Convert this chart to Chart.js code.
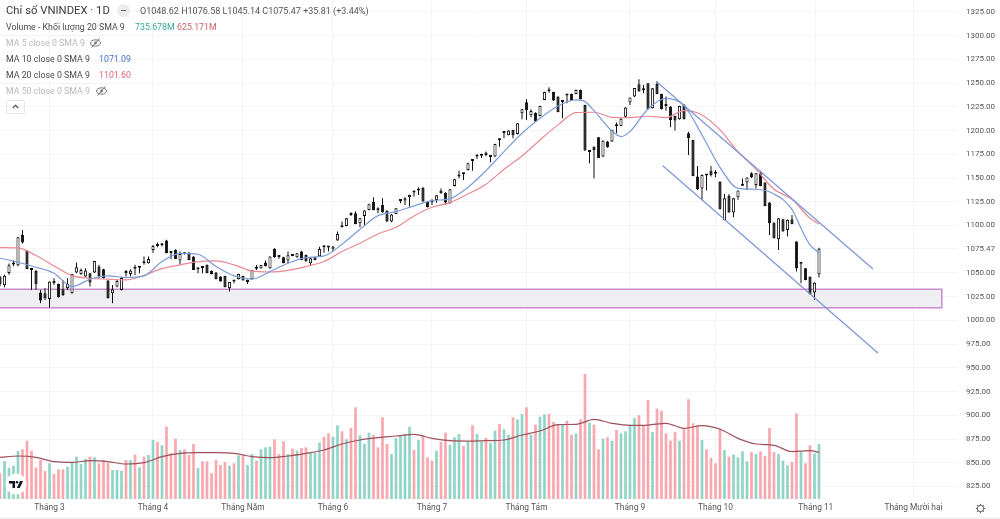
<!DOCTYPE html>
<html lang="vi">
<head>
<meta charset="utf-8">
<title>Chỉ số VNINDEX</title>
<script src="https://cdn.jsdelivr.net/npm/chart.js@4"></script>
<style>
html, body { margin: 0; padding: 0; background: #fff; }
#wrap { position: relative; width: 1000px; height: 519px; overflow: hidden; font-family: Roboto, sans-serif; color: #4a4a4a; filter: blur(0.3px); }
#priceChart { position: absolute; left: 0; top: 0; }
.row { position: absolute; left: 6px; font-size: 8.8px; line-height: 12px; white-space: nowrap; }
.row span { position: absolute; top: 0; }
.off { color: #b8b8b8; }
#title { font-size: 11.3px; top: 4px; line-height: 14px; color: #3c3c3c; }
#ohlc { position: absolute; left: 140px; top: 5px; font-size: 9px; line-height: 12px; white-space: nowrap; color: #555; }
#pill { position: absolute; left: 117px; top: 4px; width: 13px; height: 13px; border-radius: 7px; background: #ececec; }
#pill i { position: absolute; left: 4px; top: 6px; width: 5px; height: 1.4px; background: #666; }
#fold { position: absolute; left: 6px; top: 100px; width: 17px; height: 12px; border: 1px solid #e6e6e6; border-radius: 2px; }
.icon { position: absolute; }
#bottomBand { position: absolute; left: 0; top: 517px; width: 1000px; height: 2px; background: #f3f3f3; }
</style>
</head>
<body>
<div id="wrap">
  <canvas id="priceChart" width="1000" height="519"></canvas>
  <div class="row" id="title">Chỉ số VNINDEX · 1D</div>
  <div id="pill"><i></i></div>
  <div id="ohlc">O1048.62 H1076.58 L1045.14 C1075.47 +35.81 (+3.44%)</div>
  <div class="row" style="top:21px">Volume - Khối lượng 20 SMA 9<span style="left:129px;color:#3aa899">735.678M</span><span style="left:171px;color:#c9626c">625.171M</span></div>
  <div class="row off" style="top:37px">MA 5 close 0 SMA 9</div>
  <svg class="icon" style="left:89px;top:37px" width="13" height="12" viewBox="0 0 13 12"><ellipse cx="6.5" cy="6" rx="5" ry="3.2" fill="none" stroke="#777"/><circle cx="6.5" cy="6" r="1.4" fill="#777"/><path d="M2.5 10.5 L10.5 1.5" stroke="#777"/></svg>
  <div class="row" style="top:53px">MA 10 close 0 SMA 9<span style="left:93px;color:#4a70c4">1071.09</span></div>
  <div class="row" style="top:69px">MA 20 close 0 SMA 9<span style="left:93px;color:#dc6676">1101.60</span></div>
  <div class="row off" style="top:85px">MA 50 close 0 SMA 9</div>
  <svg class="icon" style="left:95px;top:85px" width="13" height="12" viewBox="0 0 13 12"><ellipse cx="6.5" cy="6" rx="5" ry="3.2" fill="none" stroke="#777"/><circle cx="6.5" cy="6" r="1.4" fill="#777"/><path d="M2.5 10.5 L10.5 1.5" stroke="#777"/></svg>
  <div id="fold"><svg class="icon" style="left:5px;top:3px" width="7" height="5" viewBox="0 0 7 5"><path d="M0.8 4 L3.5 1.2 L6.2 4" fill="none" stroke="#444" stroke-width="1.1"/></svg></div>
  <svg class="icon" style="left:5px;top:473px" width="22" height="22" viewBox="0 0 22 22"><circle cx="11" cy="11" r="10.5" fill="#fff"/><path d="M4 8 H10 V15 H7.5 V10.5 H4 Z" fill="#131722"/><circle cx="12" cy="9.3" r="1.3" fill="#131722"/><path d="M15 8 H18 L14.8 15 H11.8 Z" fill="#131722"/></svg>
  <svg class="icon" style="left:975px;top:503px" width="11" height="11" viewBox="0 0 11 11"><circle cx="5.5" cy="5.5" r="3.2" fill="none" stroke="#555" stroke-width="1"/><path d="M5.5 0.8 V2.3 M5.5 8.7 V10.2 M0.8 5.5 H2.3 M8.7 5.5 H10.2 M2.2 2.2 L3.2 3.2 M7.8 7.8 L8.8 8.8 M8.8 2.2 L7.8 3.2 M3.2 7.8 L2.2 8.8" stroke="#555" stroke-width="1"/></svg>
  <div id="bottomBand"></div>
</div>
<script>
// du lieu doc tu hinh (gia theo nen ngay)
const opens = [
  1046,1037,1050,1061,1058,1090,1073.6,1054,1052,1029.3,
  1028.6,1022.6,1041,1038.4,1032.8,1033.9,1028.6,1050.4,1049,1046.2,
  1049.7,1050.4,1056.7,1053.9,1042,1028.6,1035.6,1032.1,1051,1049,
  1055.3,1055.5,1062,1060.2,1074.3,1080.2,1079.3,1084.1,1072,1074.3,
  1063,1071.4,1071.4,1067.2,1053.9,1055.7,1058.5,1052.1,1050.4,1046.2,
  1046.9,1033.9,1041.6,1043.4,1046.9,1040.5,1043.3,1055.2,1054.9,1060.9,
  1054.9,1075.6,1068,1066.5,1063,1069.7,1066.5,1072.5,1069,1060.2,
  1066.5,1067.2,1078.5,1078.2,1075.5,1084.1,1100.2,1099.5,1112.9,1112.9,
  1102.3,1110.1,1116.4,1124.8,1117,1121.7,1115.7,1104.1,1112.2,1125.8,
  1126.2,1129.7,1135.4,1137,1139.6,1125.2,1125.5,1126.9,1136.8,1134.6,
  1123.4,1141.7,1151.5,1154.8,1158.5,1168.8,1172.8,1173.4,1176.8,1173,
  1172.6,1190.4,1197.5,1195.1,1200.7,1196.5,1218.2,1229.8,1216.1,1218.9,
  1215.4,1232.3,1243.5,1240.7,1235.8,1230,1237.6,1238.6,1238.6,1242.8,
  1227,1177.5,1183.1,1193,1172.6,1188.4,1188.4,1205.3,1204.9,1214.7,
  1229.8,1235.8,1248.8,1243,1249.9,1223.5,1249.1,1238.6,1227.5,1225.3,
  1215.4,1211.9,1227,1197.2,1190.1,1151.5,1138.9,1153.8,1157.8,1155.4,
  1146.2,1105.9,1131.1,1113.6,1129.7,1142,1145.2,1155,1142.7,1155,
  1145.2,1124.1,1103,1085.5,1106.6,1095.3,1106.6,1083,1059.8,1054.9,
  1046.1,1029.3,1048.62
];
const highs = [
  1047,1048,1060,1063,1088,1095.3,1074,1054.5,1053,1032.1,
  1033.9,1041,1044.4,1039,1042.6,1044.4,1049,1060.9,1054.8,1055,
  1050,1062.7,1058.5,1054.5,1042.5,1037.4,1043.3,1046.2,1053.2,1053.9,
  1058.5,1056.3,1067.2,1067.2,1079.5,1082,1081.3,1085,1072.5,1075,
  1072.5,1072,1072,1067.5,1055,1056,1059,1052.5,1051,1046.5,
  1047,1040.5,1042.6,1049,1047,1043,1053.2,1058.4,1058.4,1063,
  1067.5,1076,1068.6,1067,1072.5,1070,1071,1073.5,1069.3,1065.8,
  1067,1077.5,1079,1078.5,1078.5,1093.6,1104.1,1108,1114,1115,
  1108,1116,1122.8,1129.7,1119.2,1128.7,1116,1112,1118.5,1127.6,
  1129.7,1132.5,1136.8,1139.9,1140.5,1125.5,1127.6,1132,1139,1135,
  1138.5,1149,1157.8,1155.7,1166,1169,1175,1175.5,1178,1173.5,
  1186,1191.9,1199.6,1200.3,1201,1208,1222.8,1233.3,1222.5,1219.2,
  1226.3,1241,1245.6,1241,1236,1232.3,1238.6,1239,1243.2,1243.2,
  1227.3,1179.5,1183.4,1193.3,1189.7,1189,1200.9,1208.4,1212.9,1224.5,
  1234.8,1245,1254,1248.1,1250.2,1245,1252,1238.9,1235.8,1225.6,
  1215.7,1226.3,1228,1198.9,1190.4,1162.7,1153.6,1154,1162.7,1158.5,
  1146.5,1133.2,1133.2,1129,1137,1149.4,1150.8,1156,1155.3,1157.8,
  1145.5,1124.4,1103.3,1108,1107,1106.2,1111.1,1083.3,1061.5,1055.2,
  1046.4,1040.2,1076.58
];
const lows = [
  1036,1035,1048,1057,1057,1081,1054,1032,1032,1018.1,
  1021.6,1013.5,1037.4,1024,1025.8,1032.1,1028,1049.7,1048,1046,
  1035.6,1050,1044.4,1044,1023,1018.1,1034.9,1031.4,1046.2,1046.2,
  1047.9,1049.7,1058.5,1060,1071.4,1077,1077.8,1070.7,1064.4,1064.8,
  1058.5,1069.5,1063.5,1053,1049.7,1049.7,1049.7,1048.6,1043.3,1040.9,
  1034.9,1030.4,1039.1,1043,1042,1038.4,1043,1053.2,1054.5,1056.7,
  1054.5,1066,1065,1060.2,1060.2,1067.5,1066,1063.5,1062,1058.4,
  1063.5,1067,1071.4,1072.5,1072.5,1084,1097.8,1099.3,1110,1101.3,
  1098.1,1100.6,1116,1116,1112.9,1113.5,1103.8,1103.5,1112,1123.4,
  1121.7,1119.9,1130.4,1132.2,1125,1119,1121.7,1124,1133.5,1122,
  1123,1141,1149.7,1148,1158,1157.8,1170,1171,1173,1166.6,
  1172,1183.1,1191.9,1195,1192,1196,1211.9,1211.2,1214,1209.2,
  1215,1232,1240,1231.3,1219.3,1213,1228.8,1231.3,1238.2,1232.8,
  1178.5,1165.6,1149.8,1171,1172,1182,1188,1197.2,1204.5,1214.3,
  1227,1235.5,1241,1239.3,1222.2,1223.2,1238.4,1222.2,1221,1203.5,
  1200,1211.5,1211.6,1174.3,1152,1137.5,1126.9,1136.8,1151.5,1150.8,
  1116.8,1105.5,1113.3,1108.7,1127,1141.5,1137.5,1150,1139,1141.4,
  1120.3,1090,1086.2,1074.2,1093.3,1088.3,1101.3,1051.4,1039.1,1042.3,
  1027.2,1021.6,1045.14
];
const closes = [
  1038,1047,1058,1059,1087.6,1082,1054.2,1053,1038,1020.9,
  1023.3,1040.9,1039.5,1024.4,1026.8,1038.4,1049,1056,1053.2,1052.5,
  1039.8,1062.7,1046.2,1044.4,1023.3,1032.8,1041.6,1044.8,1050,1052.5,
  1054.5,1056,1060.2,1064.8,1078.5,1078.5,1079.8,1070.7,1071,1064.8,
  1070,1069.7,1063.7,1053.2,1054,1055.3,1049.7,1048.6,1043.4,1041,
  1034.9,1040.5,1041,1049,1042,1041,1053.2,1054.3,1058.4,1057.4,
  1067.2,1066.5,1066.8,1060.2,1068.6,1067.9,1070.7,1063.7,1062,1065.5,
  1063.7,1075.3,1077,1076.8,1077.8,1091.1,1098.1,1107.6,1111.1,1101.6,
  1107.6,1115.7,1122.4,1116.4,1116,1113.9,1104.1,1111.5,1118.1,1126.4,
  1128.7,1132.2,1134.8,1137.5,1125.2,1119.2,1124.5,1131.8,1133.9,1124.1,
  1138.2,1148.7,1152.5,1154,1165.6,1168,1173.3,1174,1174.3,1172.2,
  1185.9,1189.8,1198.3,1200,1195.1,1207.7,1222.5,1221.8,1220.7,1209.5,
  1226,1240.7,1241.4,1231.6,1219.6,1230.8,1237,1231.6,1242.8,1233,
  1178.9,1179.5,1179.6,1171.2,1189.4,1182.4,1200.7,1204.5,1212.6,1224.2,
  1234.8,1244.9,1241.1,1242.5,1222.5,1244.6,1238.6,1222.5,1226,1211.2,
  1210.5,1226,1211.9,1191.9,1152.2,1138.2,1153.3,1152.8,1153.3,1154.6,
  1117,1128.7,1113.6,1128.7,1136.8,1142.6,1150.5,1150.8,1155,1141.7,
  1120.6,1102.3,1086.5,1107.6,1093.6,1105.9,1101.6,1054.9,1060.5,1042.6,
  1027.9,1039.66,1075.47
];
// khoi luong (trieu), 1 = cot xanh, 0 = cot hong
const volumes = [
  343,508,419,446,646,664,780,646,419,521,
  374,477,334,397,397,432,486,566,468,535,
  566,557,477,521,486,388,388,379,521,521,
  593,423,566,588,789,762,718,967,611,807,
  655,664,588,735,414,504,504,343,521,455,
  495,446,477,584,597,455,602,513,664,691,
  700,798,602,771,602,673,646,682,691,620,
  620,753,833,878,833,985,905,798,949,1226,
  851,735,887,860,691,1092,735,602,816,842,
  869,967,655,789,851,557,513,646,762,887,
  726,825,869,709,762,985,869,767,816,753,
  914,1003,932,860,1092,1065,1137,1226,860,994,
  1101,1132,1137,1030,1003,989,1047,860,878,1065,
  1671,1021,994,664,807,825,780,923,878,905,
  994,1083,1119,985,1324,896,1208,1181,878,780,
  896,780,940,1333,1012,985,789,664,548,477,
  940,655,566,593,557,637,504,628,602,637,
  575,949,628,602,513,450,495,1145,628,477,
  718,611,735.678
];
const volumeUp = [
  0,1,1,1,1,0,0,0,0,0,
  0,1,0,0,0,1,1,1,1,1,
  0,1,0,0,0,1,1,1,0,1,
  0,1,0,1,1,0,1,0,0,0,
  1,0,0,0,1,0,0,0,0,0,
  0,1,0,1,0,1,1,0,1,1,
  1,0,0,0,1,0,1,0,0,1,
  1,1,0,0,1,1,0,1,0,0,
  1,1,1,0,0,0,0,1,1,1,
  1,1,0,1,0,0,0,1,0,0,
  1,1,1,0,1,0,1,1,0,1,
  1,0,1,1,0,1,1,0,1,0,
  1,1,0,0,0,1,0,0,1,0,
  0,1,0,0,1,0,1,0,1,1,
  1,1,0,0,0,1,0,0,0,0,
  0,1,0,0,0,0,1,0,0,0,
  0,1,0,1,1,1,1,0,1,0,
  0,0,0,1,1,1,0,0,1,0,
  0,1,1
];

// duong MA doc theo tung moc nen
const ma10Bars = [0,4,8,12,16,20,24,28,32,36,40,44,48,52,56,60,64,68,72,76,80,84,88,92,96,100,104,108,112,116,120,124,128,130,132,136,138,140,144,148,152,156,160,164,168,172,176,178,180,182];
const ma10Values = [1065.5,1061.3,1056,1049.7,1035.6,1043.4,1046.9,1045.1,1046.9,1062,1070.7,1069.7,1056.7,1046.9,1043.5,1051.4,1060.2,1066.2,1067.9,1080.2,1096,1110.4,1114.6,1120.6,1126.2,1128.3,1140.3,1157.8,1177.9,1197.2,1213,1226,1232.3,1230.5,1221,1199.6,1193.7,1198.9,1222.8,1234,1226.3,1195.4,1161.3,1139.2,1138.2,1133.2,1117,1097,1079.5,1071.09];
const maBars = [0,4,8,12,16,20,24,28,32,36,40,44,48,52,56,60,64,68,72,76,80,84,88,92,96,100,104,108,112,116,120,124,128,132,136,140,144,148,152,156,160,164,168,172,176,180,182];
const ma20Values = [1076.7,1076.4,1068.3,1057.4,1047.2,1044.4,1043.4,1042.6,1047.6,1054.6,1058.5,1062,1062.7,1058.5,1052.1,1051,1052.8,1056.7,1062,1072.5,1081.3,1091.1,1098.1,1110,1119.2,1124.1,1133.2,1143.4,1159.2,1173.3,1190.1,1206,1218.9,1219.3,1214,1213.7,1215.1,1213.7,1221,1216.5,1200.7,1177.8,1159.2,1138.2,1127.6,1107.6,1101.6];
const volumeMaValues = [557,575,557,499,490,513,499,468,486,566,611,620,620,611,566,553,575,611,655,735,789,820,842,865,811,780,775,780,789,856,909,994,998,1065,1012,985,989,1012,945,980,932,811,735,718,633,646,625.171];

// kenh giam va vung ho tro
const upperTrendBars = [146, 194];
const upperTrendPrices = [1251.2, 1054.2];
const lowerTrendBars = [147.3, 195.1];
const lowerTrendPrices = [1163, 965.7];
const zoneBars = [-2, 209.3, 209.3, -2, -2];
const zonePrices = [1032.8, 1032.8, 1013.4, 1013.4, 1032.8];

// nhan truc
const monthBars = [11, 34, 54, 74, 96, 117, 140, 159, 181.3, 203];
const monthLabels = ['Tháng 3', 'Tháng 4', 'Tháng Năm', 'Tháng 6', 'Tháng 7', 'Tháng Tám', 'Tháng 9', 'Tháng 10', 'Tháng 11', 'Tháng Mười hai'];
const priceTicks = [1325,1300,1275,1250,1225,1200,1175,1150,1125,1100,1075.47,1050,1025,1000,975,950,925,900,875,850,825];

const pairs = (xs, ys) => xs.map((x, i) => ({ x: x, y: ys[i] }));
const grid = '#f4f4f6';

new Chart(document.getElementById('priceChart'), {
    type: 'bar',
    data: {
        datasets: [
            // vung ho tro
            {
                type: 'line', data: pairs(zoneBars, zonePrices), yAxisID: 'y', order: 10,
                borderColor: '#c98ccf', borderWidth: 1.5, backgroundColor: '#efeff1',
                fill: 'shape', tension: 0, pointRadius: 0
            },
            // khoi luong
            {
                data: volumes.map((v, i) => ({ x: i, y: v })), yAxisID: 'yVolume', order: 9,
                backgroundColor: volumeUp.map(u => u ? '#92d5c8' : '#f8a9b0'),
                grouped: false, barPercentage: 0.76
            },
            {
                type: 'line', data: pairs(maBars, volumeMaValues), yAxisID: 'yVolume', order: 8,
                borderColor: '#9c5059', borderWidth: 1.2, pointRadius: 0, cubicInterpolationMode: 'monotone'
            },
            // rau nen
            {
                data: highs.map((h, i) => ({ x: i, y: [lows[i], h] })), yAxisID: 'y', order: 7,
                backgroundColor: '#111', grouped: false, barPercentage: 1, maxBarThickness: 1
            },
            // than nen
            {
                data: opens.map((o, i) => ({ x: i, y: [o, closes[i]] })), yAxisID: 'y', order: 6,
                backgroundColor: opens.map((o, i) => closes[i] >= o ? '#fff' : '#111'),
                borderColor: '#111', borderWidth: 1, borderSkipped: false,
                grouped: false, barPercentage: 0.88, minBarLength: 2
            },
            // MA
            {
                type: 'line', data: pairs(maBars, ma20Values), yAxisID: 'y', order: 5,
                borderColor: '#e88a92', borderWidth: 1.2, pointRadius: 0, cubicInterpolationMode: 'monotone'
            },
            {
                type: 'line', data: pairs(ma10Bars, ma10Values), yAxisID: 'y', order: 4,
                borderColor: '#7a9ad8', borderWidth: 1.2, pointRadius: 0, cubicInterpolationMode: 'monotone'
            },
            // kenh
            {
                type: 'line', data: pairs(upperTrendBars, upperTrendPrices), yAxisID: 'y', order: 3,
                borderColor: '#7d94d8', borderWidth: 1.2, pointRadius: 0, tension: 0
            },
            {
                type: 'line', data: pairs(lowerTrendBars, lowerTrendPrices), yAxisID: 'y', order: 3,
                borderColor: '#7d94d8', borderWidth: 1.2, pointRadius: 0, tension: 0
            }
        ]
    },
    options: {
        responsive: false,
        animation: false,
        events: [],
        layout: { padding: 0 },
        plugins: { legend: { display: false }, tooltip: { enabled: false } },
        scales: {
            x: {
                type: 'linear', min: 0, max: 212.67, offset: false,
                border: { display: false },
                grid: { color: grid, drawTicks: false, offset: false },
                afterBuildTicks: scale => { scale.ticks = monthBars.map(v => ({ value: v })); },
                afterFit: scale => { scale.height = 20; scale.paddingLeft = 0; scale.paddingRight = 0; },
                ticks: {
                    autoSkip: false, maxRotation: 0, padding: 4, font: { family: 'Roboto', size: 8.4 }, color: '#555',
                    callback: value => monthLabels[monthBars.indexOf(value)]
                }
            },
            y: {
                position: 'right', min: 811.8, max: 1337.6,
                border: { display: false },
                grid: { color: grid, drawTicks: false },
                afterBuildTicks: scale => { scale.ticks = priceTicks.map(v => ({ value: v })); },
                afterFit: scale => { scale.width = 43; scale.paddingTop = 0; scale.paddingBottom = 0; },
                ticks: {
                    padding: 9, font: { family: 'Roboto', size: 8 }, color: '#555',
                    callback: value => value.toFixed(2)
                }
            },
            yVolume: { display: false, min: 0, max: 6672 }
        }
    }
});
</script>
</body>
</html>
